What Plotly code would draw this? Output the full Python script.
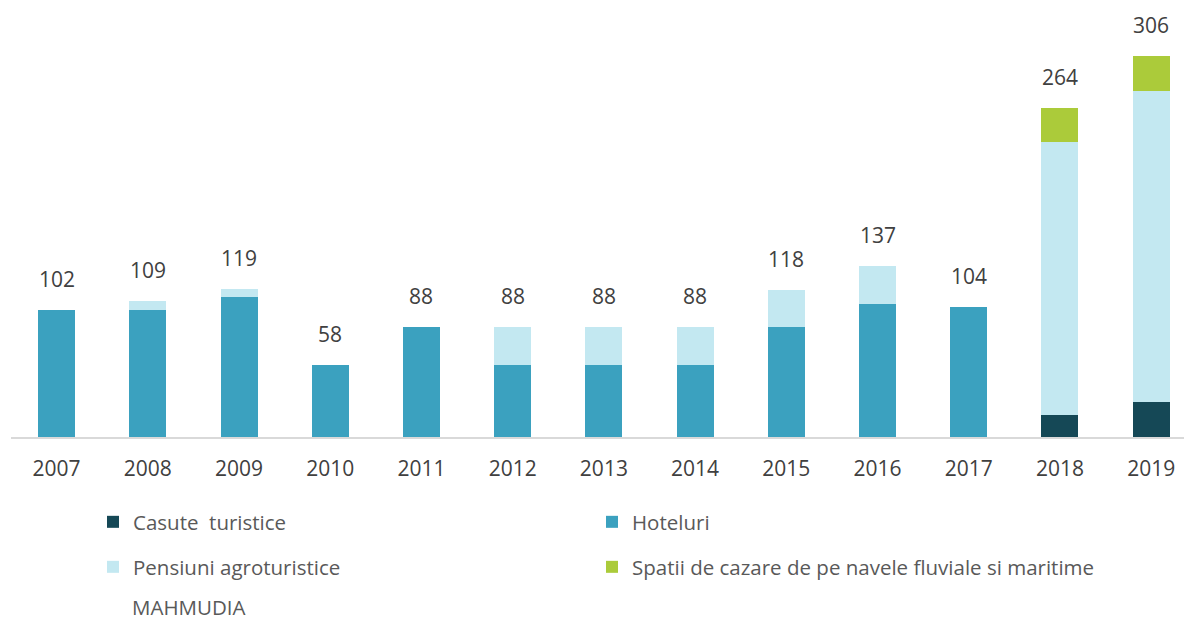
import plotly.graph_objects as go

years = ["2007", "2008", "2009", "2010", "2011", "2012", "2013", "2014", "2015", "2016", "2017", "2018", "2019"]
casute = [0, 0, 0, 0, 0, 0, 0, 0, 0, 0, 0, 18, 28]
hoteluri = [102, 102, 112, 58, 88, 58, 58, 58, 88, 107, 104, 0, 0]
pensiuni = [0, 7, 7, 0, 0, 30, 30, 30, 30, 30, 0, 219, 250]
spatii = [0, 0, 0, 0, 0, 0, 0, 0, 0, 0, 0, 27, 28]
totals = [102, 109, 119, 58, 88, 88, 88, 88, 118, 137, 104, 264, 306]

names = ["Casute  turistice", "Hoteluri", "Pensiuni agroturistice",
         "Spatii de cazare de pe navele fluviale si maritime"]
colors = ["#154856", "#3BA1BF", "#C3E8F1", "#ABCB3A"]
series = [casute, hoteluri, pensiuni, spatii]
legend_ids = ["legend", "legend2", "legend3", "legend4"]
legend_px = [(93, 522), (592, 522), (93, 567), (592, 567)]

W, H, L, B = 1184, 621, 11, 184
PW, PH = W - L, H - B

x = list(range(len(years)))
fig = go.Figure()
for nm, col, vals, lg in zip(names, colors, series, legend_ids):
    fig.add_trace(go.Bar(x=x, y=vals, name=nm, marker=dict(color=col, line=dict(width=0)),
                         legend=lg, hoverinfo="skip"))

for xi, t in zip(x, totals):
    fig.add_annotation(x=xi, y=t, text=str(t), showarrow=False, yanchor="middle",
                       yshift=31, font=dict(family="Open Sans", size=21, color="#404040"))

fig.add_annotation(xref="paper", yref="paper", x=(132 - L) / PW, y=0, yanchor="middle",
                   xanchor="left", yshift=-(607 - PH), text="MAHMUDIA", showarrow=False,
                   xshift=-2, font=dict(family="Open Sans", size=20.5, color="#595959"))

lfont = dict(family="Open Sans", size=20.5, color="#595959")
legend_layout = {}
for lg, (px, py) in zip(legend_ids, legend_px):
    legend_layout[lg] = dict(x=(px - L) / PW, y=-(py - PH) / PH, xanchor="left",
                             yanchor="middle", font=lfont, bgcolor="rgba(0,0,0,0)")

fig.update_layout(
    width=W, height=H,
    margin=dict(l=L, r=0, t=0, b=B, autoexpand=False),
    plot_bgcolor="white", paper_bgcolor="white",
    barmode="stack", bargap=0.595,
    showlegend=True,
    xaxis=dict(range=[-0.5, 12.36], tickvals=x, ticktext=years, showgrid=False,
               showline=True, linecolor="#D9D9D9", linewidth=2, ticks="",
               tickfont=dict(family="Open Sans", size=21, color="#404040"),
               ticklabelstandoff=12, zeroline=False, fixedrange=True),
    yaxis=dict(range=[0, 350.8], showgrid=False, showticklabels=False, zeroline=False,
               showline=False, fixedrange=True),
    **legend_layout,
)

fig.write_html("out.html", config={"displayModeBar": False},
               post_script="document.body.style.margin='0px';document.body.style.overflow='hidden';")
